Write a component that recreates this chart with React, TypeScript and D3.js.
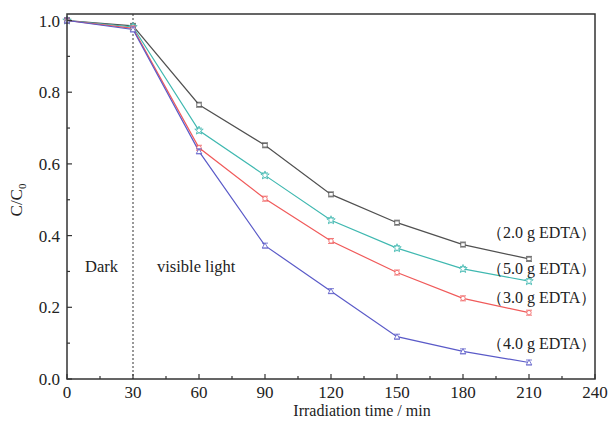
import React from "react";
import * as d3 from "d3";

const times = [0, 30, 60, 90, 120, 150, 180, 210];
const seriesNames = ["2.0 g EDTA", "5.0 g EDTA", "3.0 g EDTA", "4.0 g EDTA"];
const s20 = [1.0, 0.985, 0.765, 0.652, 0.515, 0.436, 0.375, 0.335];
const s50 = [1.0, 0.982, 0.693, 0.568, 0.443, 0.365, 0.307, 0.273];
const s30 = [1.0, 0.978, 0.645, 0.503, 0.385, 0.297, 0.225, 0.185];
const s40 = [1.0, 0.975, 0.635, 0.372, 0.245, 0.118, 0.077, 0.046];
const xTicks = [0, 30, 60, 90, 120, 150, 180, 210, 240];
const yTicks = [0.0, 0.2, 0.4, 0.6, 0.8, 1.0];

const colors = ["#505050", "#3fb8b0", "#f05a5a", "#5a5ac8"];
const markers = ["square", "star", "circle", "triangle"];
const labelY = [238, 274, 303, 349];

export default function App() {
  const W = 608, H = 421;
  const left = 67, right = 595, top = 14, bottom = 379;
  const x = d3.scaleLinear().domain([0, 240]).range([left, right]);
  const y = d3.scaleLinear().domain([0, 1.0]).range([bottom, 20.5]);
  const font = "'Liberation Serif', 'Times New Roman', serif";
  const data = [s20, s50, s30, s40];
  const line = d3.line<number>().x((_, i) => x(times[i])).y((d) => y(d));

  const marker = (type: string, cx: number, cy: number, c: string, key: string) => {
    const r = 2.2;
    let shape;
    if (type === "square") shape = <rect x={cx - r} y={cy - r * 0.8} width={2 * r} height={1.6 * r} fill="white" stroke={c} strokeWidth={0.8} />;
    else if (type === "circle") shape = <circle cx={cx} cy={cy} r={r} fill="white" stroke={c} strokeWidth={0.8} />;
    else if (type === "triangle") shape = <path d={`M${cx},${cy - r - 0.5}L${cx + r + 0.5},${cy + r}L${cx - r - 0.5},${cy + r}Z`} fill="white" stroke={c} strokeWidth={0.8} />;
    else shape = <path d={d3.symbol(d3.symbolStar, 22)()!} transform={`translate(${cx},${cy})`} fill="white" stroke={c} strokeWidth={0.8} />;
    return (
      <g key={key}>
        <line x1={cx - 3} x2={cx + 3} y1={cy - 2.5} y2={cy - 2.5} stroke={c} strokeWidth={0.8} />
        <line x1={cx - 3} x2={cx + 3} y1={cy + 2.5} y2={cy + 2.5} stroke={c} strokeWidth={0.8} />
        {shape}
      </g>
    );
  };

  return (
    <svg width={W} height={H} style={{ position: "absolute", left: 0, top: 0 }} fontFamily={font}>
      <rect width={W} height={H} fill="white" />
      <line x1={x(30)} x2={x(30)} y1={top} y2={bottom} stroke="#333" strokeWidth={1} strokeDasharray="2,2" />
      {data.map((s, k) => (
        <path key={"l" + k} d={line(s)!} fill="none" stroke={colors[k]} strokeWidth={1.2} />
      ))}
      {data.map((s, k) => s.map((v, i) => marker(markers[k], x(times[i]), y(v), colors[k], `m${k}-${i}`)))}
      <rect x={left} y={top} width={right - left} height={bottom - top} fill="none" stroke="#333" strokeWidth={1.5} />
      {xTicks.map((t) => (
        <g key={"xt" + t}>
          <line x1={x(t)} x2={x(t)} y1={bottom} y2={bottom - 5} stroke="#333" strokeWidth={1.2} />
          <text x={x(t)} y={397.5} textAnchor="middle" fontSize={17} fill="#222">{t}</text>
        </g>
      ))}
      {d3.range(15, 240, 30).map((t) => (
        <line key={"xm" + t} x1={x(t)} x2={x(t)} y1={bottom} y2={bottom - 3} stroke="#333" strokeWidth={1.2} />
      ))}
      {yTicks.map((t) => (
        <g key={"yt" + t}>
          <line x1={left} x2={left + 5} y1={y(t)} y2={y(t)} stroke="#333" strokeWidth={1.2} />
          <text x={60} y={y(t) + 6} textAnchor="end" fontSize={17} fill="#222">{t.toFixed(1)}</text>
        </g>
      ))}
      {[0.1, 0.3, 0.5, 0.7, 0.9].map((t) => (
        <line key={"ym" + t} x1={left} x2={left + 3} y1={y(t)} y2={y(t)} stroke="#333" strokeWidth={1.2} />
      ))}
      <text x={362} y={416} textAnchor="middle" fontSize={16} fill="#222">Irradiation time / min</text>
      <text transform="translate(22,200) rotate(-90)" textAnchor="middle" fontSize={17} fill="#222">
        C/C<tspan fontSize={11} dy={4}>0</tspan>
      </text>
      <text x={85} y={272} fontSize={16.5} fill="#222">Dark</text>
      <text x={157} y={272} fontSize={16.5} fill="#222">visible light</text>
      {seriesNames.map((n, k) => (
        <text key={"lab" + k} x={487} y={labelY[k]} fontSize={16} fill="#222">{"（" + n + "）"}</text>
      ))}
    </svg>
  );
}
